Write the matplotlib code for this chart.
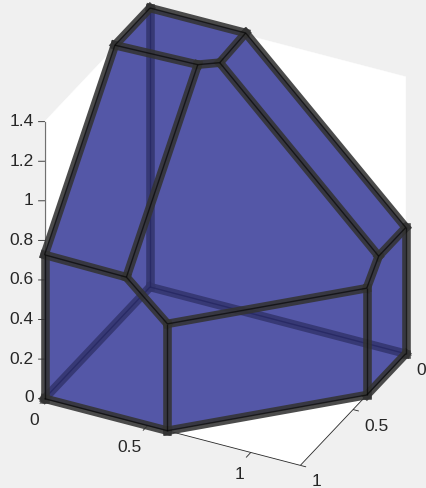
import matplotlib
matplotlib.use("Agg")
import matplotlib.pyplot as plt
from mpl_toolkits.mplot3d import proj3d
from mpl_toolkits.mplot3d.art3d import Poly3DCollection

plt.rcParams['font.family'] = ['Liberation Sans', 'DejaVu Sans']

# Polytope vertices (x, y, z)
V = {
    'E': (0.00, 0.00, 0.00), 'A': (0.00, 1.00, 0.00), 'B': (0.596, 1.00, 0.00),
    'C': (1.24, 0.37, 0.00), 'D': (1.24, 0.00, 0.00),
    'F': (0.00, 1.00, 0.727), 'K': (0.397, 1.00, 0.722), 'G': (0.596, 1.00, 0.54),
    'H': (1.24, 0.37, 0.54), 'P': (1.24, 0.257, 0.638), 'I': (1.24, 0.00, 0.638),
    'J': (0.00, 0.00, 1.41), 'M': (0.00, 0.333, 1.41), 'L': (0.394, 0.3175, 1.41),
    'O': (0.472, 0.262, 1.41), 'N': (0.464, 0.00, 1.41),
}
back_faces = ['EAFMJ', 'EJNID', 'ABCDE']
front_faces = ['ABGKF', 'BCHG', 'CDIPH', 'FKLM', 'KGHPOL', 'JMLON', 'ONIP']
hidden_edges = ['EA', 'ED', 'EJ']
front_edges = ['AB', 'BC', 'CD', 'AF', 'BG', 'CH', 'DI', 'FK', 'KG', 'GH', 'HP', 'PI',
               'KL', 'FM', 'ML', 'LO', 'MJ', 'JN', 'NO', 'NI', 'OP']

X_MAX, Y_MAX, Z_MAX = 1.24, 1.0, 1.4
x_ticks = [0, 0.5, 1]
y_ticks = [0, 0.5, 1]
z_ticks = [0, 0.2, 0.4, 0.6, 0.8, 1, 1.2, 1.4]
x_labels = ['0', '0.5', '1']
y_labels = ['0', '0.5', '1']
z_labels = ['0', '0.2', '0.4', '0.6', '0.8', '1', '1.2', '1.4']

BG = '#f0f0f0'
FACE = (52/255, 55/255, 151/255)
FACE_ALPHA = 0.6
EDGE = (0.2, 0.2, 0.2)
TXT = '#262626'

fig = plt.figure(figsize=(4.26, 4.89), dpi=100, facecolor=BG)
POS = [-0.1, -0.1, 1.2, 1.2]
ax = fig.add_axes(POS, projection='3d', proj_type='ortho')
ax.computed_zorder = False
ax.patch.set_alpha(0)
ax.set_axis_off()
ax.view_init(elev=31.7, azim=-63.6)
ax.set_xlim(0, X_MAX, view_margin=0)
ax.set_ylim(Y_MAX, 0, view_margin=0)
ax.set_zlim(0, Z_MAX, view_margin=0)
aspect = (1.228, 1.02, 1.4)


def px(p):
    u, v, _ = proj3d.proj_transform(p[0], p[1], p[2], ax.get_proj())
    return ax.transData.transform((u, v))


# Scale and place the box so that its corners land where the reference has them
ax.set_box_aspect(aspect, zoom=1)
ax.apply_aspect()
d = px((0, 0, Z_MAX))[1] - px((0, 0, 0))[1]
ax.set_box_aspect(aspect, zoom=277.0 / d)
ax.apply_aspect()
o = px((0, 0, 0))
dx = (150 - o[0]) / fig.bbox.width
dy = ((489 - 288) - o[1]) / fig.bbox.height
ax.set_position([POS[0] + dx, POS[1] + dy, POS[2], POS[3]])
ax.apply_aspect()


def poly(names):
    return [V[n] for n in names]


# Box walls and floor
walls = [[(0, 0, 0), (0, Y_MAX, 0), (0, Y_MAX, Z_MAX), (0, 0, Z_MAX)],
         [(0, 0, 0), (X_MAX, 0, 0), (X_MAX, 0, Z_MAX), (0, 0, Z_MAX)],
         [(0, 0, 0), (X_MAX, 0, 0), (X_MAX, Y_MAX, 0), (0, Y_MAX, 0)]]
ax.add_collection3d(Poly3DCollection(walls, facecolor='white', edgecolor='white',
                                     linewidth=0.3, zorder=1))

# Axis lines
axis_kw = dict(color=TXT, lw=0.6, zorder=1.5, solid_capstyle='butt')
ax.plot([0, X_MAX], [1, 1], [0, 0], **axis_kw)
ax.plot([X_MAX, X_MAX], [0, 1], [0, 0], **axis_kw)
ax.plot([0, 0], [1, 1], [0, Z_MAX], color='#707070', lw=0.9, zorder=1.5)
for x in x_ticks:
    ax.plot([x, x], [1, 1.045], [0, 0], **axis_kw)
for y in y_ticks:
    ax.plot([X_MAX, X_MAX + 0.028], [y, y], [0, 0], **axis_kw)
for z in z_ticks:
    ax.plot([0, 0], [1, 1.057], [z, z + 0.032], color=TXT, lw=0.6, zorder=1.5)


# Tick labels: placed in figure space at the projected tick, with a pixel offset
def label(p, s, off_x, off_y, ha):
    q = px(p)
    fig.text((q[0] + off_x) / fig.bbox.width, (q[1] - off_y) / fig.bbox.height, s,
             ha=ha, va='center', color=TXT, fontsize=12.5)


for x, s in zip(x_ticks, x_labels):
    label((x, 1, 0), s, -6, 21, 'right')
for y, s in zip(y_ticks, y_labels):
    label((X_MAX, y, 0), s, 11, 15.5, 'left')
for z, s in zip(z_ticks, z_labels):
    label((0, 1, z), s, -11, -1 if z else -2.5, 'right')


def draw_edges(edges, zorder):
    for e in edges:
        a, b = V[e[0]], V[e[1]]
        xs, ys, zs = zip(a, b)
        ax.plot(xs, ys, zs, color=EDGE, alpha=0.88, lw=6.2, zorder=zorder,
                solid_capstyle='projecting')
        ax.plot(xs, ys, zs, color='black', alpha=0.6, lw=1.0, zorder=zorder + 0.1,
                solid_capstyle='butt')


ax.add_collection3d(Poly3DCollection([poly(f) for f in back_faces], facecolor=FACE,
                                     edgecolor='none', alpha=FACE_ALPHA, zorder=2))
draw_edges(hidden_edges, 3)
ax.add_collection3d(Poly3DCollection([poly(f) for f in front_faces], facecolor=FACE,
                                     edgecolor='none', alpha=FACE_ALPHA, zorder=4))
draw_edges(front_edges, 5)

fig.savefig('out.png', dpi=100, facecolor=BG)
